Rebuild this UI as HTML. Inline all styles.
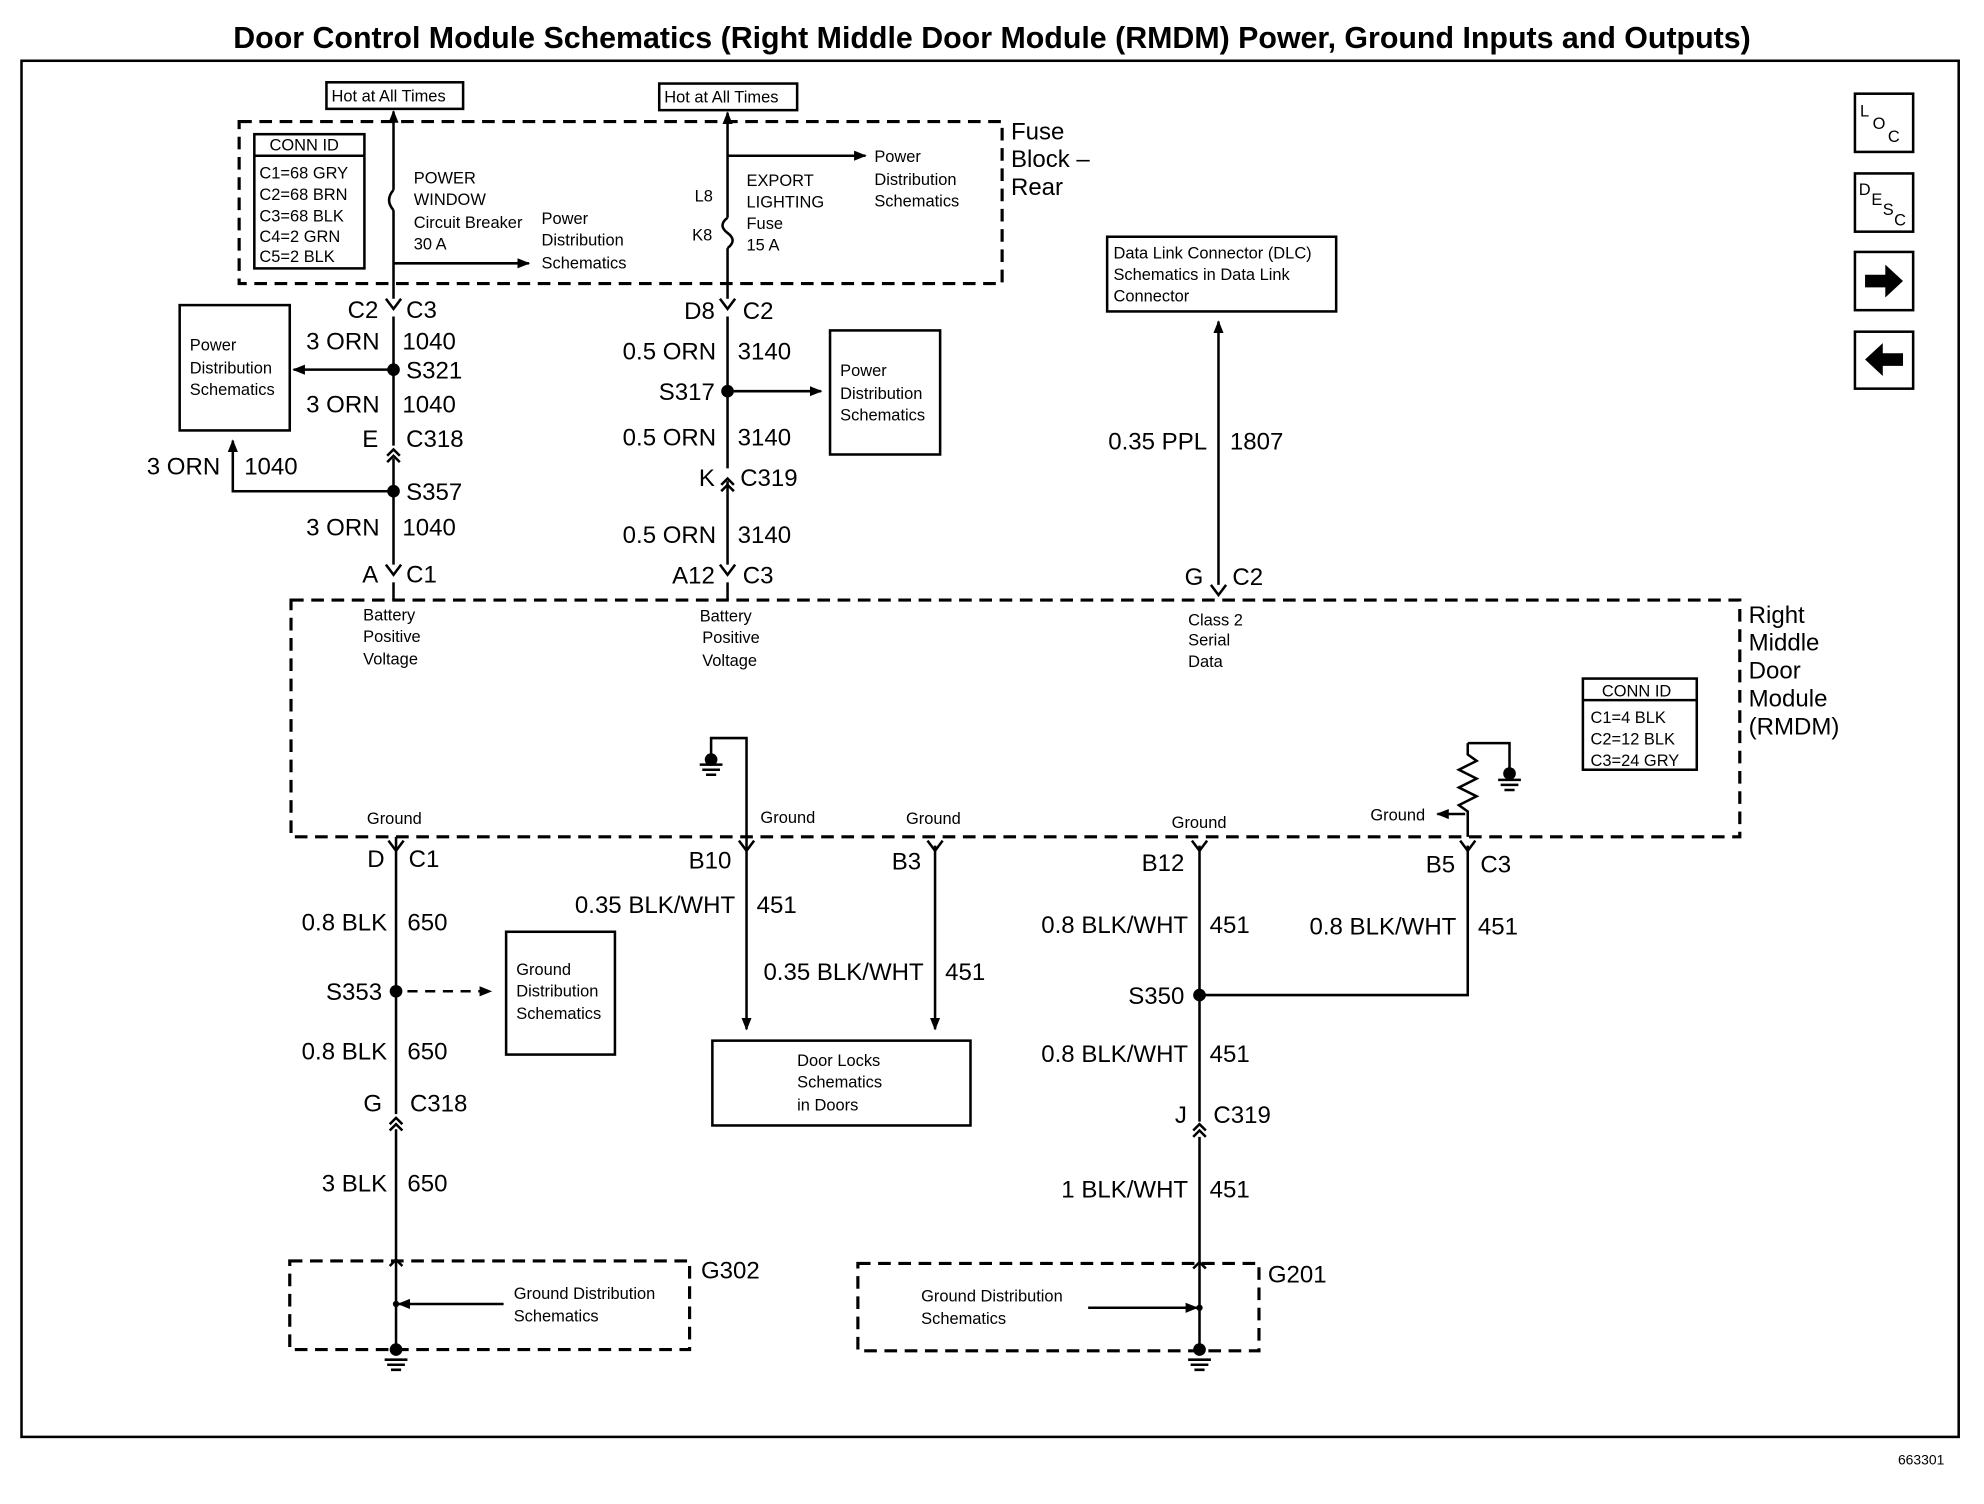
<!DOCTYPE html>
<html><head><meta charset="utf-8">
<style>
html,body{margin:0;padding:0;background:#fff;}
svg{display:block;}
text{font-family:"Liberation Sans",sans-serif;fill:#000;}
.l{font-size:19px;}
.s{font-size:14px;}
.t{font-size:13px;}
</style></head><body>
<svg width="1984" height="1504" viewBox="0 0 1568 1188" preserveAspectRatio="none" xmlns="http://www.w3.org/2000/svg">
<defs>
<marker id="ar" markerWidth="10" markerHeight="10" refX="9" refY="5" orient="auto" markerUnits="userSpaceOnUse"><path d="M0,1 L10,5 L0,9 z" fill="#000"/></marker>
</defs>
<rect width="1568" height="1188" fill="#fff"/>
<text x="784" y="38" text-anchor="middle" style="font-size:24px;font-weight:bold">Door Control Module Schematics (Right Middle Door Module (RMDM) Power, Ground Inputs and Outputs)</text>
<rect x="17" y="48" width="1531" height="1087" fill="none" stroke="#000" stroke-width="2"/>
<text x="1500" y="1157" class="t" style="font-size:11px">663301</text>

<g fill="none" stroke="#000" stroke-width="2">
<rect x="1466" y="74" width="46" height="46"/>
<rect x="1466" y="137" width="46" height="46"/>
<rect x="1466" y="199" width="46" height="46"/>
<rect x="1466" y="262" width="46" height="45"/>
</g>
<text x="1470" y="92" class="t">L</text><text x="1480" y="102" class="t">O</text><text x="1492" y="112" class="t">C</text>
<text x="1469" y="154" class="t">D</text><text x="1479" y="162" class="t">E</text><text x="1488" y="170" class="t">S</text><text x="1497" y="178" class="t">C</text>
<path d="M1474,217 h16 v-8 l14,13 l-14,13 v-8 h-16z" fill="#000"/>
<path d="M1504,279 h-16 v-8 l-14,13 l14,13 v-8 h16z" fill="#000"/>

<g fill="none" stroke="#000" stroke-width="2.5" stroke-dasharray="10,6">
<rect x="189" y="96" width="603" height="128"/>
<rect x="230" y="474" width="1145" height="187"/>
<rect x="229" y="996" width="316" height="70"/>
<rect x="678" y="998" width="317" height="69"/>
</g>
<text x="799" y="110" class="l">Fuse</text><text x="799" y="132" class="l">Block –</text><text x="799" y="154" class="l">Rear</text>
<text x="1382" y="492" class="l">Right</text><text x="1382" y="514" class="l">Middle</text><text x="1382" y="536" class="l">Door</text><text x="1382" y="558" class="l">Module</text><text x="1382" y="580" class="l">(RMDM)</text>

<g fill="none" stroke="#000" stroke-width="2">
<rect x="201" y="106" width="87" height="106"/><line x1="201" y1="123" x2="288" y2="123"/>
<rect x="258" y="65" width="108" height="21"/>
<rect x="521" y="66" width="109" height="21"/>
<rect x="142" y="241" width="87" height="99"/>
<rect x="656" y="261" width="87" height="98"/>
<rect x="875" y="187" width="181" height="59"/>
<rect x="1251" y="536" width="90" height="72"/><line x1="1251" y1="553" x2="1341" y2="553"/>
<rect x="400" y="736" width="86" height="97"/>
<rect x="563" y="822" width="204" height="67"/>
</g>
<text x="213" y="119" class="t">CONN ID</text>
<text x="205" y="141" class="t">C1=68 GRY</text><text x="205" y="158" class="t">C2=68 BRN</text><text x="205" y="175" class="t">C3=68 BLK</text><text x="205" y="191" class="t">C4=2 GRN</text><text x="205" y="207" class="t">C5=2 BLK</text>
<text x="262" y="80" class="t">Hot at All Times</text>
<text x="525" y="81" class="t">Hot at All Times</text>
<text x="1266" y="550" class="t">CONN ID</text>
<text x="1257" y="571" class="t">C1=4 BLK</text><text x="1257" y="588" class="t">C2=12 BLK</text><text x="1257" y="605" class="t">C3=24 GRY</text>

<g class="t">
<text x="327" y="145">POWER</text><text x="327" y="162">WINDOW</text><text x="327" y="180">Circuit Breaker</text><text x="327" y="197">30 A</text>
<text x="428" y="177">Power</text><text x="428" y="194">Distribution</text><text x="428" y="212">Schematics</text>
<text x="590" y="147">EXPORT</text><text x="590" y="164">LIGHTING</text><text x="590" y="181">Fuse</text><text x="590" y="198">15 A</text>
<text x="549" y="159">L8</text><text x="547" y="190">K8</text>
<text x="691" y="128">Power</text><text x="691" y="146">Distribution</text><text x="691" y="163">Schematics</text>
<text x="150" y="277">Power</text><text x="150" y="295">Distribution</text><text x="150" y="312">Schematics</text>
<text x="664" y="297">Power</text><text x="664" y="315">Distribution</text><text x="664" y="332">Schematics</text>
<text x="880" y="204">Data Link Connector (DLC)</text><text x="880" y="221">Schematics in Data Link</text><text x="880" y="238">Connector</text>
<text x="287" y="490">Battery</text><text x="287" y="507">Positive</text><text x="287" y="525">Voltage</text>
<text x="553" y="491">Battery</text><text x="555" y="508">Positive</text><text x="555" y="526">Voltage</text>
<text x="939" y="494">Class 2</text><text x="939" y="510">Serial</text><text x="939" y="527">Data</text>
<text x="290" y="651">Ground</text><text x="601" y="650">Ground</text><text x="716" y="651">Ground</text><text x="926" y="654">Ground</text><text x="1083" y="648">Ground</text>
<text x="408" y="770">Ground</text><text x="408" y="787">Distribution</text><text x="408" y="805">Schematics</text>
<text x="630" y="842">Door Locks</text><text x="630" y="859">Schematics</text><text x="630" y="877">in Doors</text>
<text x="406" y="1026">Ground Distribution</text><text x="406" y="1044">Schematics</text>
<text x="728" y="1028">Ground Distribution</text><text x="728" y="1046">Schematics</text>
</g>

<g fill="none" stroke="#000" stroke-width="2">
<line x1="311" y1="150" x2="311" y2="88" marker-end="url(#ar)"/>
<path d="M311,150 q-7,8 0,16"/>
<line x1="311" y1="166" x2="311" y2="236"/>
<line x1="311" y1="250" x2="311" y2="352"/>
<line x1="311" y1="362" x2="311" y2="446"/>
<line x1="311" y1="460" x2="311" y2="474"/>
<line x1="311" y1="208" x2="418" y2="208" marker-end="url(#ar)"/>
<line x1="311" y1="292" x2="232" y2="292" marker-end="url(#ar)"/>
<polyline points="311,388 184,388 184,348" marker-end="url(#ar)"/>
<line x1="575" y1="172" x2="575" y2="89" marker-end="url(#ar)"/>
<path d="M575,172 q-8,6 0,12 q8,6 0,12"/>
<line x1="575" y1="196" x2="575" y2="236"/>
<line x1="575" y1="250" x2="575" y2="370"/>
<line x1="575" y1="380" x2="575" y2="446"/>
<line x1="575" y1="460" x2="575" y2="474"/>
<line x1="575" y1="123" x2="684" y2="123" marker-end="url(#ar)"/>
<line x1="575" y1="309" x2="649" y2="309" marker-end="url(#ar)"/>
<line x1="963" y1="462" x2="963" y2="254" marker-end="url(#ar)"/>
<line x1="313" y1="661" x2="313" y2="880"/>
<line x1="313" y1="892" x2="313" y2="1066"/>
<line x1="322" y1="783" x2="388" y2="783" stroke-dasharray="8,6" marker-end="url(#ar)"/>
<line x1="398" y1="1030" x2="315" y2="1030" marker-end="url(#ar)"/>
<line x1="590" y1="661" x2="590" y2="813" marker-end="url(#ar)"/>
<polyline points="562,596 562,583 590,583 590,661"/>
<line x1="739" y1="668" x2="739" y2="813" marker-end="url(#ar)"/>
<line x1="948" y1="668" x2="948" y2="886"/>
<line x1="948" y1="898" x2="948" y2="1066"/>
<polyline points="948,786 1160,786 1160,668"/>
<line x1="860" y1="1033" x2="946" y2="1033" marker-end="url(#ar)"/>
<polyline points="1160,587 1193,587 1193,607"/>
<polyline points="1160,587 1160,596 1167,601 1153,608 1167,615 1153,622 1167,629 1153,636 1160,641 1160,661"/>
<line x1="1158" y1="643" x2="1136" y2="643" marker-end="url(#ar)"/>
<path d="M305,236 l6,8 l6,-8 M569,236 l6,8 l6,-8 M305,446 l6,8 l6,-8 M569,446 l6,8 l6,-8 M957,462 l6,8 l6,-8"/>
<path d="M307,664 l6,8 l6,-8 M584,664 l6,8 l6,-8 M733,664 l6,8 l6,-8 M942,664 l6,8 l6,-8 M1154,664 l6,8 l6,-8"/>
<path d="M306,360 l5,-5 l5,5 M306,365 l5,-5 l5,5 M570,383 l5,-5 l5,5 M570,388 l5,-5 l5,5"/>
<path d="M308,888 l5,-5 l5,5 M308,893 l5,-5 l5,5 M943,893 l5,-5 l5,5 M943,898 l5,-5 l5,5"/>
<path d="M308,1000 l5,-5 l5,5 M943,1002 l5,-5 l5,5"/>
<path d="M553,604 h18 M555,608 h14 M558,612 h8"/>
<path d="M1184,616 h18 M1186,620 h14 M1189,624 h8"/>
<path d="M304,1074 h18 M306,1078 h14 M309,1082 h8"/>
<path d="M939,1074 h18 M941,1078 h14 M944,1082 h8"/>
</g>
<g fill="#000">
<circle cx="311" cy="292" r="5"/><circle cx="311" cy="388" r="5"/><circle cx="575" cy="309" r="5"/>
<circle cx="313" cy="783" r="5"/><circle cx="948" cy="786" r="5"/>
<circle cx="562" cy="600" r="5"/><circle cx="1193" cy="611" r="5"/>
<circle cx="313" cy="1066" r="5"/><circle cx="948" cy="1066" r="5"/>
<circle cx="313" cy="1030" r="2.5"/><circle cx="948" cy="1033" r="2.5"/>
</g>

<g class="l">
<text x="299" y="251" text-anchor="end">C2</text><text x="321" y="251">C3</text>
<text x="300" y="276" text-anchor="end">3 ORN</text><text x="318" y="276">1040</text>
<text x="321" y="299">S321</text>
<text x="300" y="326" text-anchor="end">3 ORN</text><text x="318" y="326">1040</text>
<text x="299" y="353" text-anchor="end">E</text><text x="321" y="353">C318</text>
<text x="116" y="375">3 ORN</text><text x="193" y="375">1040</text>
<text x="321" y="395">S357</text>
<text x="300" y="423" text-anchor="end">3 ORN</text><text x="318" y="423">1040</text>
<text x="299" y="460" text-anchor="end">A</text><text x="321" y="460">C1</text>
<text x="565" y="252" text-anchor="end">D8</text><text x="587" y="252">C2</text>
<text x="566" y="284" text-anchor="end">0.5 ORN</text><text x="583" y="284">3140</text>
<text x="565" y="316" text-anchor="end">S317</text>
<text x="566" y="352" text-anchor="end">0.5 ORN</text><text x="583" y="352">3140</text>
<text x="565" y="384" text-anchor="end">K</text><text x="585" y="384">C319</text>
<text x="566" y="429" text-anchor="end">0.5 ORN</text><text x="583" y="429">3140</text>
<text x="565" y="461" text-anchor="end">A12</text><text x="587" y="461">C3</text>
<text x="954" y="355" text-anchor="end">0.35 PPL</text><text x="972" y="355">1807</text>
<text x="951" y="462" text-anchor="end">G</text><text x="974" y="462">C2</text>
<text x="304" y="685" text-anchor="end">D</text><text x="323" y="685">C1</text>
<text x="306" y="735" text-anchor="end">0.8 BLK</text><text x="322" y="735">650</text>
<text x="302" y="790" text-anchor="end">S353</text>
<text x="306" y="837" text-anchor="end">0.8 BLK</text><text x="322" y="837">650</text>
<text x="302" y="878" text-anchor="end">G</text><text x="324" y="878">C318</text>
<text x="306" y="941" text-anchor="end">3 BLK</text><text x="322" y="941">650</text>
<text x="554" y="1010">G302</text>
<text x="578" y="686" text-anchor="end">B10</text>
<text x="581" y="721" text-anchor="end">0.35 BLK/WHT</text><text x="598" y="721">451</text>
<text x="728" y="687" text-anchor="end">B3</text>
<text x="730" y="774" text-anchor="end">0.35 BLK/WHT</text><text x="747" y="774">451</text>
<text x="936" y="688" text-anchor="end">B12</text>
<text x="939" y="737" text-anchor="end">0.8 BLK/WHT</text><text x="956" y="737">451</text>
<text x="1150" y="689" text-anchor="end">B5</text><text x="1170" y="689">C3</text>
<text x="1151" y="738" text-anchor="end">0.8 BLK/WHT</text><text x="1168" y="738">451</text>
<text x="936" y="793" text-anchor="end">S350</text>
<text x="939" y="839" text-anchor="end">0.8 BLK/WHT</text><text x="956" y="839">451</text>
<text x="938" y="887" text-anchor="end">J</text><text x="959" y="887">C319</text>
<text x="939" y="946" text-anchor="end">1 BLK/WHT</text><text x="956" y="946">451</text>
<text x="1002" y="1013">G201</text>
</g>
</svg>
</body></html>
